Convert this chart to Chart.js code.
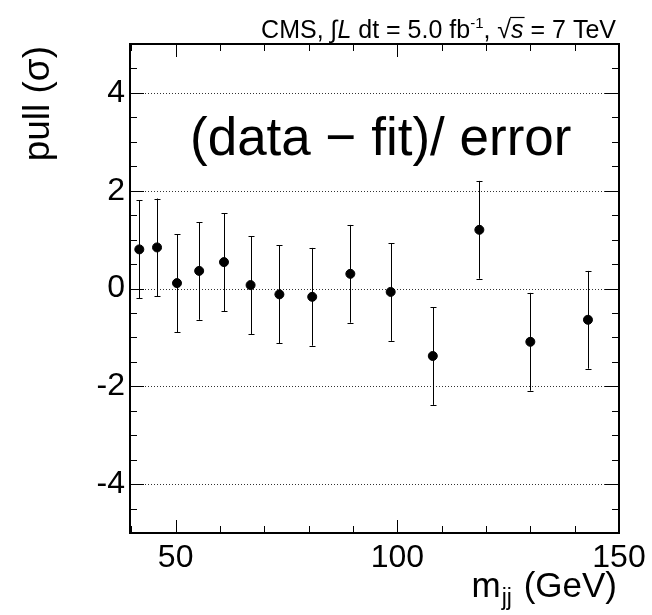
<!DOCTYPE html>
<html>
<head>
<meta charset="utf-8">
<script src="https://cdn.jsdelivr.net/npm/chart.js@4.4.0/dist/chart.umd.min.js"></script>
<style>
  html, body { margin: 0; padding: 0; background: #fff; }
  #wrap { width: 652px; height: 615px; }
</style>
</head>
<body>
<div id="wrap"><canvas id="pullChart" width="652" height="615"></canvas></div>
<script>
// dijet mass bin centres (GeV) and pull values
var massGeV = [41.8, 45.8, 50.3, 55.3, 60.9, 66.9, 73.4, 80.8, 89.4, 98.5, 108.0, 118.5, 130.0, 143.0];
var pull = [0.80, 0.84, 0.11, 0.36, 0.54, 0.07, -0.12, -0.17, 0.30, -0.07, -1.38, 1.20, -1.09, -0.64];
var pullErr = [1, 1, 1, 1, 1, 1, 1, 1, 1, 1, 1, 1, 1, 1];

var xMin = 39.7, xMax = 150;
var yMin = -5, yMax = 5;
var gridLevels = [-4, -2, 0, 2, 4];

var FONT = '"Liberation Sans", Arial, Helvetica, sans-serif';

var points = massGeV.map(function (m, i) { return { x: m, y: pull[i] }; });

// dotted horizontal lines, under the points
var gridPlugin = {
    id: 'rootGrid',
    beforeDatasetsDraw: function (chart) {
        var ctx = chart.ctx, a = chart.chartArea, ys = chart.scales.y;
        ctx.save();
        ctx.strokeStyle = '#333';
        ctx.lineWidth = 1;
        ctx.setLineDash([1, 2]);
        gridLevels.forEach(function (v) {
            var py = Math.round(ys.getPixelForValue(v)) + 0.5;
            ctx.beginPath();
            ctx.moveTo(a.left, py);
            ctx.lineTo(a.right, py);
            ctx.stroke();
        });
        ctx.restore();
    }
};

// vertical error bars with small caps
var errorBarPlugin = {
    id: 'errorBars',
    beforeDatasetsDraw: function (chart) {
        var ctx = chart.ctx, xs = chart.scales.x, ys = chart.scales.y;
        ctx.save();
        ctx.strokeStyle = '#000';
        ctx.lineWidth = 1;
        massGeV.forEach(function (m, i) {
            var px = Math.round(xs.getPixelForValue(m)) + 0.5;
            var top = ys.getPixelForValue(pull[i] + pullErr[i]);
            var bot = ys.getPixelForValue(pull[i] - pullErr[i]);
            ctx.beginPath();
            ctx.moveTo(px, top); ctx.lineTo(px, bot);
            ctx.moveTo(px - 3, Math.round(top) + 0.5); ctx.lineTo(px + 3, Math.round(top) + 0.5);
            ctx.moveTo(px - 3, Math.round(bot) + 0.5); ctx.lineTo(px + 3, Math.round(bot) + 0.5);
            ctx.stroke();
        });
        ctx.restore();
    }
};

// frame, inward ticks and text labels
var framePlugin = {
    id: 'rootFrame',
    afterDatasetsDraw: function (chart) {
        var ctx = chart.ctx, a = chart.chartArea, xs = chart.scales.x, ys = chart.scales.y;
        ctx.save();
        ctx.strokeStyle = '#000';
        ctx.lineWidth = 1;
        ctx.beginPath();
        ys.ticks.forEach(function (t) {
            var py = Math.round(ys.getPixelForValue(t.value)) + 0.5;
            var len = (t.value % 2 === 0) ? 14 : 7;
            ctx.moveTo(a.left, py); ctx.lineTo(a.left + len, py);
            ctx.moveTo(a.right, py); ctx.lineTo(a.right - len, py);
        });
        xs.ticks.forEach(function (t) {
            if (t.value < xMin) return;
            var px = Math.round(xs.getPixelForValue(t.value)) + 0.5;
            var len = (t.value % 50 === 0) ? 13 : 7;
            ctx.moveTo(px, a.bottom); ctx.lineTo(px, a.bottom - len);
            ctx.moveTo(px, a.top); ctx.lineTo(px, a.top + len);
        });
        ctx.stroke();
        ctx.lineWidth = 2;
        ctx.strokeRect(a.left, a.top, a.right - a.left, a.bottom - a.top);

        ctx.fillStyle = '#000';
        ctx.textBaseline = 'alphabetic';

        // big label inside the frame
        ctx.font = '53px ' + FONT;
        ctx.textAlign = 'left';
        ctx.fillText('(data \u2212 fit)/ error', a.left + 60, a.top + 111);

        // y axis title
        ctx.save();
        ctx.translate(49, a.top + 2);
        ctx.rotate(-Math.PI / 2);
        ctx.font = '37px ' + FONT;
        ctx.textAlign = 'right';
        ctx.fillText('pull (\u03c3)', 0, 0);
        ctx.restore();

        // x axis title: m_jj (GeV)
        ctx.textAlign = 'left';
        var big = '35px ' + FONT, small = '23px ' + FONT;
        ctx.font = big;
        var wM = ctx.measureText('m').width, wRest = ctx.measureText(' (GeV)').width;
        ctx.font = small;
        var wSub = ctx.measureText('jj').width;
        var xEnd = a.right - 2, base = 597;
        var x0 = xEnd - (wM + wSub + wRest + 3);
        ctx.font = big; ctx.fillText('m', x0, base);
        ctx.font = small; ctx.fillText('jj', x0 + wM + 1, base + 8);
        ctx.font = big; ctx.fillText(' (GeV)', x0 + wM + wSub + 3, base);

        // header
        var parts = [
            ['CMS, ', '25px ' + FONT, 0],
            ['\u222b', '25px ' + FONT, 0],
            ['L', 'italic 25px ' + FONT, 0],
            [' dt = 5.0 fb', '25px ' + FONT, 0],
            ['-1', '15px ' + FONT, -10],
            [', ', '25px ' + FONT, 0],
            ['\u221a', '25px ' + FONT, 0],
            ['s', 'italic 25px ' + FONT, 0],
            [' = 7 TeV', '25px ' + FONT, 0]
        ];
        var total = 0;
        parts.forEach(function (p) { ctx.font = p[1]; p.push(ctx.measureText(p[0]).width); total += p[3]; });
        var hx = a.right - 3 - total, hy = a.top - 6;
        parts.forEach(function (p) {
            ctx.font = p[1];
            ctx.fillText(p[0], hx, hy + p[2]);
            if (p[0] === 's') {
                ctx.lineWidth = 1.2;
                ctx.beginPath();
                ctx.moveTo(hx - 1, hy - 20.5); ctx.lineTo(hx + p[3] + 1, hy - 20.5);
                ctx.stroke();
            }
            hx += p[3];
        });
        ctx.restore();
    }
};

var ctx = document.getElementById('pullChart').getContext('2d');
var pullChart = new Chart(ctx, {
    type: 'scatter',
    data: {
        datasets: [{
            label: 'pull',
            data: points,
            backgroundColor: '#000',
            borderColor: '#000',
            pointRadius: 4.5,
            pointHoverRadius: 4.5,
            showLine: false
        }]
    },
    options: {
        responsive: false,
        animation: false,
        events: [],
        layout: { padding: { top: 44, right: 33, left: 0, bottom: 0 } },
        plugins: {
            legend: { display: false },
            tooltip: { enabled: false }
        },
        scales: {
            x: {
                type: 'linear',
                min: xMin,
                max: xMax,
                grid: { display: false, drawTicks: false },
                border: { display: false },
                afterFit: function (s) { s.height = 82; },
                afterBuildTicks: function (s) {
                    var t = [];
                    for (var v = 40; v <= xMax; v += 10) t.push({ value: v });
                    s.ticks = t;
                },
                ticks: {
                    autoSkip: false,
                    maxRotation: 0,
                    padding: 6,
                    color: '#000',
                    font: { family: FONT, size: 32 },
                    callback: function (v) { return v % 50 === 0 ? String(v) : ''; }
                }
            },
            y: {
                type: 'linear',
                min: yMin,
                max: yMax,
                grid: { display: false, drawTicks: false },
                border: { display: false },
                afterFit: function (s) { s.width = 130; },
                ticks: {
                    stepSize: 0.5,
                    autoSkip: false,
                    padding: 5,
                    color: '#000',
                    font: { family: FONT, size: 32 },
                    callback: function (v) { return (v % 2 === 0) ? String(v) : ''; }
                }
            }
        }
    },
    plugins: [gridPlugin, errorBarPlugin, framePlugin]
});
</script>
</body>
</html>
